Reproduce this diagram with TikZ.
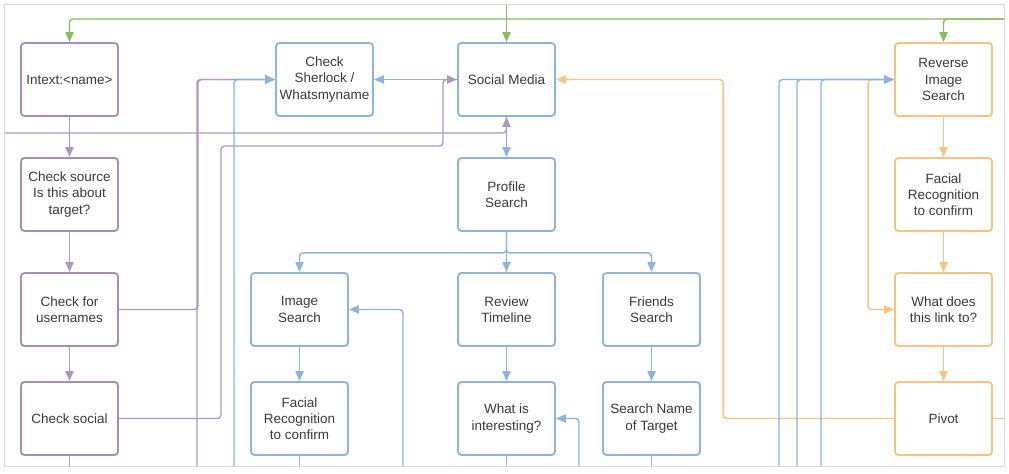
\documentclass[tikz,border=0pt]{standalone}
\usepackage{fontspec}
\setmainfont{Liberation Sans}
\usetikzlibrary{arrows.meta,positioning,calc}
\definecolor{lpurple}{HTML}{A88BB7}
\definecolor{lblue}{HTML}{8BB4DF}
\definecolor{lorange}{HTML}{F6C47F}
\definecolor{lgreen}{HTML}{8ABC5E}
\definecolor{ltext}{HTML}{3A3A3A}

\begin{document}
\begin{tikzpicture}[x=0.03cm,y=-0.03cm,
  box/.style={draw,rounded corners=3pt,line width=1.6pt,minimum width=2.91cm,minimum height=2.19cm,
    inner sep=1pt,align=center,text=ltext,font=\fontsize{11.5}{13.8}\selectfont},
  pbox/.style={box,draw=lpurple},
  bbox/.style={box,draw=lblue},
  obox/.style={box,draw=lorange},
  conn/.style={line width=1.2pt,rounded corners=3pt},
  arr/.style={conn,-{Triangle[length=8.5pt,width=7pt]}},
  pline/.style={draw=lpurple!90},
  bline/.style={draw=lblue},
  oline/.style={draw=lorange},
  gline/.style={draw=lgreen}]
\useasboundingbox (0,0) rectangle (1009,473);
\draw[black!14,line width=0.8pt] (4.5,4.5) rectangle (1004,466);

% Name checks
\node[pbox] (intext) at (69.5,79.5) {Intext:<name>};
\node[pbox] (source) at (69.5,194.5) {Check source\\Is this about\\target?};
\node[pbox] (usernames) at (69.5,309.5) {Check for\\usernames};
\node[pbox] (chksocial) at (69.5,418.5) {Check social};

% Social media
\node[bbox] (sherlock) at (324.5,79.5) {Check\\Sherlock /\\Whatsmyname};
\node[bbox] (social) at (506.5,79.5) {Social Media};
\node[bbox] (profile) at (506.5,194.5) {Profile\\Search};
\node[bbox] (imgsearch) at (299.5,309.5) {Image\\Search};
\node[bbox] (facial) at (299.5,418.5) {Facial\\Recognition\\to confirm};
\node[bbox] (timeline) at (506.5,309.5) {Review\\Timeline};
\node[bbox] (interest) at (506.5,418.5) {What is\\interesting?};
\node[bbox] (friends) at (651.5,309.5) {Friends\\Search};
\node[bbox] (searchname) at (651.5,418.5) {Search Name\\of Target};

% Images
\node[obox] (reverse) at (943.5,79.5) {Reverse\\Image\\Search};
\node[obox] (facialtwo) at (943.5,194.5) {Facial\\Recognition\\to confirm};
\node[obox] (link) at (943.5,309.5) {What does\\this link to?};
\node[obox] (pivot) at (943.5,418.5) {Pivot};

% Ends at the frame
\coordinate (gtop) at (506.5,4.5);
\coordinate (gend) at (1004,19);
\coordinate (pleft) at (4.5,133);
\coordinate (pbot) at (197,466);
\coordinate (bbot) at (234,466);
\coordinate (bbotimg) at (403,466);
\coordinate (bbotint) at (579,466);
\coordinate (bbota) at (779,466);
\coordinate (bbotb) at (797,466);
\coordinate (bbotc) at (821,466);

% Green start lines
\draw[arr,gline] (gtop) -- (social.north);
\draw[arr,gline] (gend) -| (intext.north);
\draw[arr,gline] (gend) -| (reverse.north);

% Orange flow
\draw[arr,oline] (reverse) -- (facialtwo);
\draw[arr,oline] (facialtwo) -- (link);
\draw[arr,oline] (link) -- (pivot);
\draw[arr,oline] (pivot.west) -- ++(-171,0) |- (social.east);
\draw[arr,oline] (reverse.west) -- ++(-26,0) |- (link.west);
\draw[conn,oline] (pivot.east) -- (pivot.east -| gend);

% Purple flow
\draw[arr,pline] (intext) -- (source);
\draw[arr,pline] (source) -- (usernames);
\draw[arr,pline] (usernames) -- (chksocial);
\draw[conn,pline] (chksocial.south) -- (chksocial.south |- pbot);
\draw[arr,pline] (usernames.east) -- ++(79,0) |- (sherlock.west);
\draw[arr,pline] (pbot) |- (sherlock.west);

% Blue flow
\draw[arr,bline] (bbot) |- (sherlock.west);
\draw[arr,bline] (social.west) -- (sherlock.east);
\draw[arr,bline] (social) -- (profile);
\draw[arr,bline] (profile.south) -- ++(0,21) -| (imgsearch.north);
\draw[arr,bline] (profile.south) -- ++(0,21) -| (friends.north);
\draw[arr,bline] (profile) -- (timeline);
\draw[arr,bline] (imgsearch) -- (facial);
\draw[arr,bline] (timeline) -- (interest);
\draw[arr,bline] (friends) -- (searchname);
\draw[conn,bline] (facial.south) -- (facial.south |- pbot);
\draw[conn,bline] (interest.south) -- (interest.south |- pbot);
\draw[conn,bline] (searchname.south) -- (searchname.south |- pbot);
\draw[arr,bline] (bbotimg) |- (imgsearch.east);
\draw[arr,bline] (bbotint) |- (interest.east);
\draw[arr,bline] (bbota) |- (reverse.west);
\draw[arr,bline] (bbotb) |- (reverse.west);
\draw[arr,bline] (bbotc) |- (reverse.west);

% Purple back to social media
\draw[arr,pline] (pleft) -| (social.south);
\draw[arr,pline] (chksocial.east) -| (221,146) -| (443,79.5) -- (social.west);
\end{tikzpicture}
\end{document}
